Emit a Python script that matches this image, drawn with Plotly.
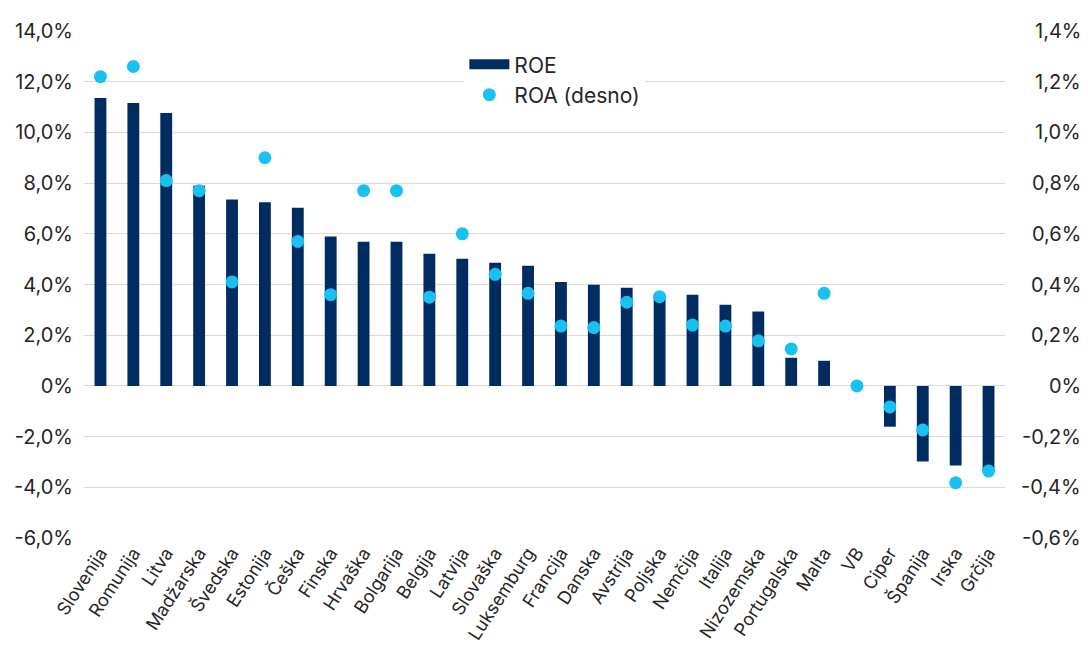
import plotly.graph_objects as go

countries = ["Slovenija", "Romunija", "Litva", "Madžarska", "Švedska", "Estonija", "Češka",
             "Finska", "Hrvaška", "Bolgarija", "Belgija", "Latvija", "Slovaška", "Luksemburg",
             "Francija", "Danska", "Avstrija", "Poljska", "Nemčija", "Italija", "Nizozemska",
             "Portugalska", "Malta", "VB", "Ciper", "Španija", "Irska", "Grčija"]

roe = [11.36, 11.16, 10.77, 7.90, 7.35, 7.24, 7.03,
       5.89, 5.69, 5.69, 5.21, 5.02, 4.86, 4.74,
       4.10, 3.99, 3.87, 3.60, 3.60, 3.20, 2.93,
       1.11, 0.99, 0.0, -1.61, -2.98, -3.14, -3.30]

roa = [1.22, 1.26, 0.81, 0.77, 0.41, 0.90, 0.57,
       0.36, 0.77, 0.77, 0.35, 0.60, 0.44, 0.365,
       0.236, 0.23, 0.33, 0.352, 0.24, 0.236, 0.178,
       0.146, 0.365, 0.0, -0.083, -0.174, -0.382, -0.336]

left_ticks = [-6, -4, -2, 0, 2, 4, 6, 8, 10, 12, 14]
left_labels = ["-6,0%", "-4,0%", "-2,0%", "0%", "2,0%", "4,0%", "6,0%", "8,0%", "10,0%", "12,0%", "14,0%"]
right_ticks = [-0.6, -0.4, -0.2, 0, 0.2, 0.4, 0.6, 0.8, 1.0, 1.2, 1.4]
right_labels = ["-0,6%", "-0,4%", "-0,2%", "0%", "0,2%", "0,4%", "0,6%", "0,8%", "1,0%", "1,2%", "1,4%"]

NAVY = "#002C62"
CYAN = "#18C1F0"
TXT = "#262626"
GRID = "#D9D9D9"
FONT = "Inter"

fig = go.Figure()
# legend-only entry for ROE (wide rectangle icon)
fig.add_trace(go.Scatter(x=[None], y=[None], mode="lines", name="ROE",
                         line=dict(color=NAVY, width=14), hoverinfo="skip"))
fig.add_trace(go.Bar(x=countries, y=roe, name="ROE", marker=dict(color=NAVY, line=dict(width=0)),
                     width=0.36, showlegend=False))
fig.add_trace(go.Scatter(x=countries, y=roa, name="ROA (desno)", mode="markers", yaxis="y2",
                         marker=dict(color=CYAN, size=13, line=dict(width=0))))

for v, t in zip(right_ticks, right_labels):
    fig.add_annotation(x=1.0847, xref="paper", y=v, yref="y2", text=t, showarrow=False,
                       xanchor="right", yanchor="middle",
                       font=dict(family=FONT, size=20, color=TXT))

fig.update_layout(
    width=1088, height=655,
    margin=dict(l=76, r=91, t=23, b=125),
    paper_bgcolor="white", plot_bgcolor="white",
    font=dict(family=FONT, color=TXT),
    showlegend=True,
    legend=dict(x=0.413, y=0.974, xanchor="left", yanchor="top", bgcolor="white",
                font=dict(family=FONT, size=21, color=TXT), itemwidth=40,
                tracegroupgap=0),
    xaxis=dict(type="category", tickangle=-57, tickfont=dict(family=FONT, size=18, color=TXT),
               showgrid=False, showline=False, ticks="", automargin=False,
               range=[-0.5, len(countries) - 0.5]),
    yaxis=dict(range=[-6, 14], tickvals=left_ticks, ticktext=left_labels,
               tickfont=dict(family=FONT, size=20, color=TXT), showgrid=True,
               gridcolor=GRID, gridwidth=1, zeroline=False, showline=False,
               ticks="", ticklabelstandoff=10, automargin=False),
    yaxis2=dict(range=[-0.6, 1.4], overlaying="y", side="right", showgrid=False,
                zeroline=False, showticklabels=False, showline=False, ticks=""),
)

fig.write_html("out.html")
